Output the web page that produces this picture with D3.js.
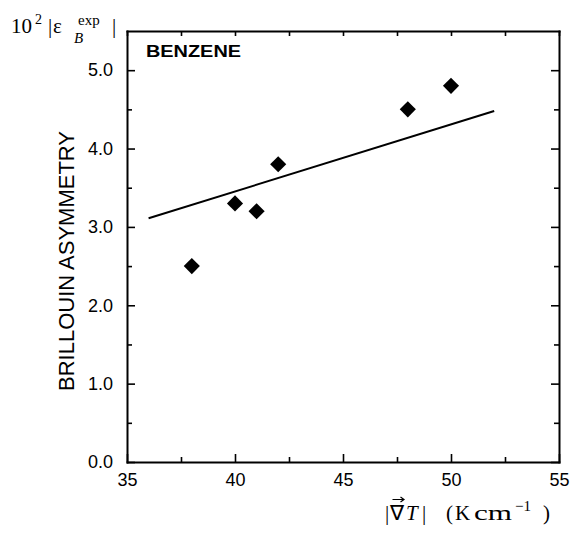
<!DOCTYPE html>
<html>
<head>
<meta charset="utf-8">
<script src="https://cdn.jsdelivr.net/npm/d3@7"></script>
<style>
  html, body { margin: 0; padding: 0; background: #fff; }
  svg { display: block; }
</style>
</head>
<body>
<svg id="chart" width="571" height="534"></svg>
<script>
// ---- data ----
const gradT = [38, 40, 41, 42, 48, 50];          // |grad T| (K cm^-1)
const asymmetry = [2.5, 3.3, 3.2, 3.8, 4.5, 4.8]; // 10^2 |eps_B^exp|
const fitX = [36, 52];
const fitY = [3.11, 4.48];
const xTicks = [35, 40, 45, 50, 55];
const xMinor = [37.5, 42.5, 47.5, 52.5];
const yTicks = [0, 1, 2, 3, 4, 5];
const yMinor = [0.5, 1.5, 2.5, 3.5, 4.5];
const xDomain = [35, 55];
const yDomain = [0, 5.5];

// ---- layout ----
const L = 127, R = 559, T = 31, B = 462;
const svg = d3.select("#chart");
const x = d3.scaleLinear().domain(xDomain).range([L, R]);
const y = d3.scaleLinear().domain(yDomain).range([B, T]);
const sans = "'Liberation Sans', Arial, Helvetica, sans-serif";
const serif = "'Liberation Serif', 'Times New Roman', serif";
const major = 8, minor = 5;

// axes (ticks inward); the domain paths form the frame
const axB = d3.axisBottom(x).tickValues(xTicks).tickFormat(d3.format("d")).tickSize(-major).tickSizeOuter(0).tickPadding(11);
const axBm = d3.axisBottom(x).tickValues(xMinor).tickFormat("").tickSize(-minor).tickSizeOuter(0);
const axT = d3.axisTop(x).tickValues(xTicks.concat(xMinor)).tickFormat("").tickSize(-minor).tickSizeOuter(0);
const axL = d3.axisLeft(y).tickValues(yTicks).tickFormat(d3.format(".1f")).tickSize(-major).tickSizeOuter(0).tickPadding(14);
const axLm = d3.axisLeft(y).tickValues(yMinor).tickFormat("").tickSize(-minor).tickSizeOuter(0);
const axR = d3.axisRight(y).tickValues(yTicks).tickFormat("").tickSize(-major).tickSizeOuter(0);
const axRm = d3.axisRight(y).tickValues(yMinor).tickFormat("").tickSize(-minor).tickSizeOuter(0);

function place(ax, tr, keepDomain) {
  const g = svg.append("g").attr("transform", tr).call(ax);
  if (keepDomain) {
    g.select(".domain").attr("stroke", "#000").attr("stroke-width", 2).attr("stroke-linecap", "square");
  } else {
    g.select(".domain").remove();
  }
  g.selectAll(".tick line").attr("stroke", "#000").attr("stroke-width", 1.6);
  g.selectAll(".tick text").attr("fill", "#000").style("font-family", sans).style("font-size", "18px");
  return g;
}
place(axB, `translate(0,${B})`, true);
place(axBm, `translate(0,${B})`, false);
place(axT, `translate(0,${T})`, true);
place(axL, `translate(${L},0)`, true);
place(axLm, `translate(${L},0)`, false);
place(axR, `translate(${R},0)`, true);
place(axRm, `translate(${R},0)`, false);

// fit line
svg.append("path")
  .datum(fitX.map((d, i) => [d, fitY[i]]))
  .attr("d", d3.line().x(d => x(d[0])).y(d => y(d[1])))
  .attr("fill", "none").attr("stroke", "#000").attr("stroke-width", 2);

// diamonds
svg.append("g").selectAll("path").data(gradT.map((d, i) => [d, asymmetry[i]])).join("path")
  .attr("transform", d => `translate(${x(d[0])},${y(d[1])}) rotate(45)`)
  .attr("d", d3.symbol().type(d3.symbolSquare).size(130))
  .attr("fill", "#000");

// BENZENE label
svg.append("text").attr("x", 146).attr("y", 57)
  .style("font-family", sans).style("font-weight", "bold").style("font-size", "17px")
  .attr("textLength", 95).attr("lengthAdjust", "spacingAndGlyphs")
  .text("BENZENE");

// rotated y label
svg.append("text")
  .attr("transform", "translate(74,261) rotate(-90)")
  .attr("text-anchor", "middle")
  .style("font-family", sans).style("font-size", "22px")
  .text("BRILLOUIN ASYMMETRY");

// top-left y title: 10^2 |eps_B^exp|
const yt = svg.append("g").style("font-family", serif).attr("fill", "#000");
yt.append("text").attr("x", 11).attr("y", 33).style("font-size", "21px").text("10");
yt.append("text").attr("x", 35).attr("y", 24).style("font-size", "14px").text("2");
yt.append("text").attr("x", 48).attr("y", 33).style("font-size", "21px").text("|");
yt.append("text").attr("x", 53).attr("y", 33).style("font-size", "21px").text("ε");
yt.append("text").attr("x", 74).attr("y", 43).style("font-size", "15px").style("font-style", "italic").text("B");
yt.append("text").attr("x", 78).attr("y", 25).style("font-size", "15px").text("exp");
yt.append("text").attr("x", 112).attr("y", 33).style("font-size", "21px").text("|");

// bottom x title: |grad T| (K cm^-1)
const xt = svg.append("g").style("font-family", serif).attr("fill", "#000");
const base = 520;
xt.append("text").attr("x", 385).attr("y", base).style("font-size", "21px").text("|");
xt.append("text").attr("x", 390).attr("y", base).style("font-size", "21px").text("∇");
// vector arrow over nabla (decoration)
svg.append("path").attr("d", "M392.5,499.5 H403.5 M400.5,497 L404,499.5 L400.5,502")
  .attr("fill", "none").attr("stroke", "#000").attr("stroke-width", 1.2);
xt.append("text").attr("x", 406).attr("y", base).style("font-size", "21px").style("font-style", "italic").text("T");
xt.append("text").attr("x", 422).attr("y", base).style("font-size", "21px").text("|");
xt.append("text").attr("x", 446).attr("y", base).style("font-size", "21px").text("(");
xt.append("text").attr("x", 455).attr("y", base).style("font-size", "21px").text("K");
xt.append("text").attr("x", 474).attr("y", base).style("font-size", "21px")
  .attr("textLength", 38).attr("lengthAdjust", "spacingAndGlyphs").text("cm");
xt.append("text").attr("x", 515).attr("y", base - 9).style("font-size", "15px").text("−1");
xt.append("text").attr("x", 543).attr("y", base).style("font-size", "21px").text(")");
</script>
</body>
</html>
